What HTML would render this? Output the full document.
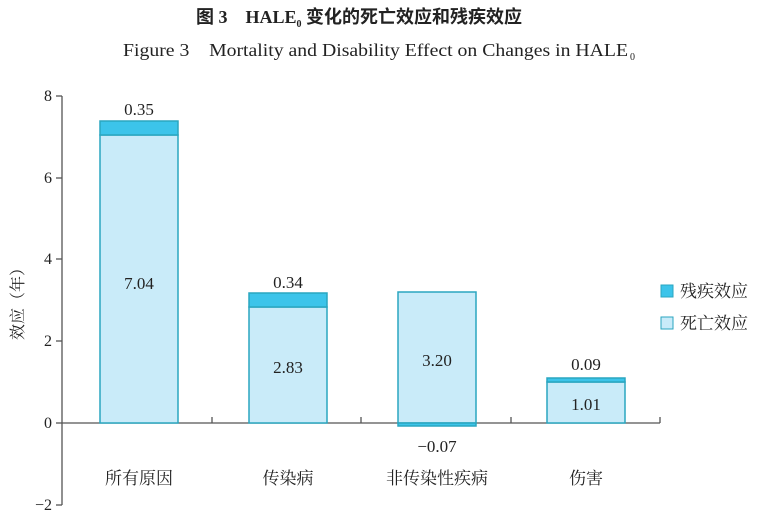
<!DOCTYPE html>
<html><head><meta charset="utf-8"><style>
html,body{margin:0;padding:0;background:#fff;}
svg{display:block;}
text{font-family:"Liberation Serif","Noto Serif CJK SC",serif;fill:#222;}
</style></head><body>
<svg width="768" height="521" viewBox="0 0 768 521" xmlns="http://www.w3.org/2000/svg">
<text x="196" y="23" font-size="18" font-weight="bold" style="font-family:'Liberation Serif','Noto Sans CJK SC',serif">图 3　HALE<tspan font-size="10" dy="4">0</tspan><tspan dy="-4"> 变化的死亡效应和残疾效应</tspan></text>
<text x="123" y="56" font-size="18" textLength="505" lengthAdjust="spacingAndGlyphs">Figure 3　Mortality and Disability Effect on Changes in HALE</text>
<text x="630" y="60" font-size="10">0</text>
<!-- axes -->
<g stroke="#555" stroke-width="1.3" fill="none">
<line x1="62" y1="96" x2="62" y2="505"/>
<line x1="62" y1="423" x2="660" y2="423"/>
<line x1="56" y1="96" x2="62" y2="96"/>
<line x1="56" y1="178" x2="62" y2="178"/>
<line x1="56" y1="259" x2="62" y2="259"/>
<line x1="56" y1="341" x2="62" y2="341"/>
<line x1="56" y1="423" x2="62" y2="423"/>
<line x1="56" y1="505" x2="62" y2="505"/>
<line x1="212" y1="423" x2="212" y2="417"/>
<line x1="361" y1="423" x2="361" y2="417"/>
<line x1="511" y1="423" x2="511" y2="417"/>
<line x1="660" y1="423" x2="660" y2="417"/>
</g>
<g font-size="16" text-anchor="end">
<text x="52" y="101">8</text><text x="52" y="183">6</text><text x="52" y="264">4</text>
<text x="52" y="346">2</text><text x="52" y="428">0</text><text x="52" y="510">−2</text>
</g>
<text transform="translate(23,300) rotate(-90)" text-anchor="middle" font-size="16">效应（年）</text>
<!-- bars -->
<g stroke="#2aa6c0" stroke-width="1.5">
<rect x="100" y="135" width="78" height="288" fill="#c9ebf9"/>
<rect x="100" y="121" width="78" height="14" fill="#3cc4ea"/>
<rect x="249" y="307" width="78" height="116" fill="#c9ebf9"/>
<rect x="249" y="293" width="78" height="14" fill="#3cc4ea"/>
<rect x="398" y="292" width="78" height="131" fill="#c9ebf9"/>
<rect x="398" y="423" width="78" height="3" fill="#3cc4ea"/>
<rect x="547" y="382" width="78" height="41" fill="#c9ebf9"/>
<rect x="547" y="378" width="78" height="4" fill="#3cc4ea"/>
</g>
<g font-size="17" text-anchor="middle">
<text x="139" y="115">0.35</text><text x="139" y="289">7.04</text>
<text x="288" y="288">0.34</text><text x="288" y="373">2.83</text>
<text x="437" y="366">3.20</text><text x="437" y="452">−0.07</text>
<text x="586" y="370">0.09</text><text x="586" y="410">1.01</text>
</g>
<g font-size="17" text-anchor="middle" style="font-family:'Liberation Serif','Noto Serif CJK SC',serif">
<text x="139" y="484">所有原因</text><text x="288" y="484">传染病</text>
<text x="437" y="484">非传染性疾病</text><text x="586" y="484">伤害</text>
</g>
<rect x="661" y="285" width="12" height="12" fill="#3cc4ea" stroke="#2aa6c0"/>
<rect x="661" y="317" width="12" height="12" fill="#c9ebf9" stroke="#2aa6c0"/>
<g font-size="17" style="font-family:'Liberation Serif','Noto Serif CJK SC',serif">
<text x="680" y="297">残疾效应</text><text x="680" y="329">死亡效应</text>
</g>
</svg>
</body></html>
